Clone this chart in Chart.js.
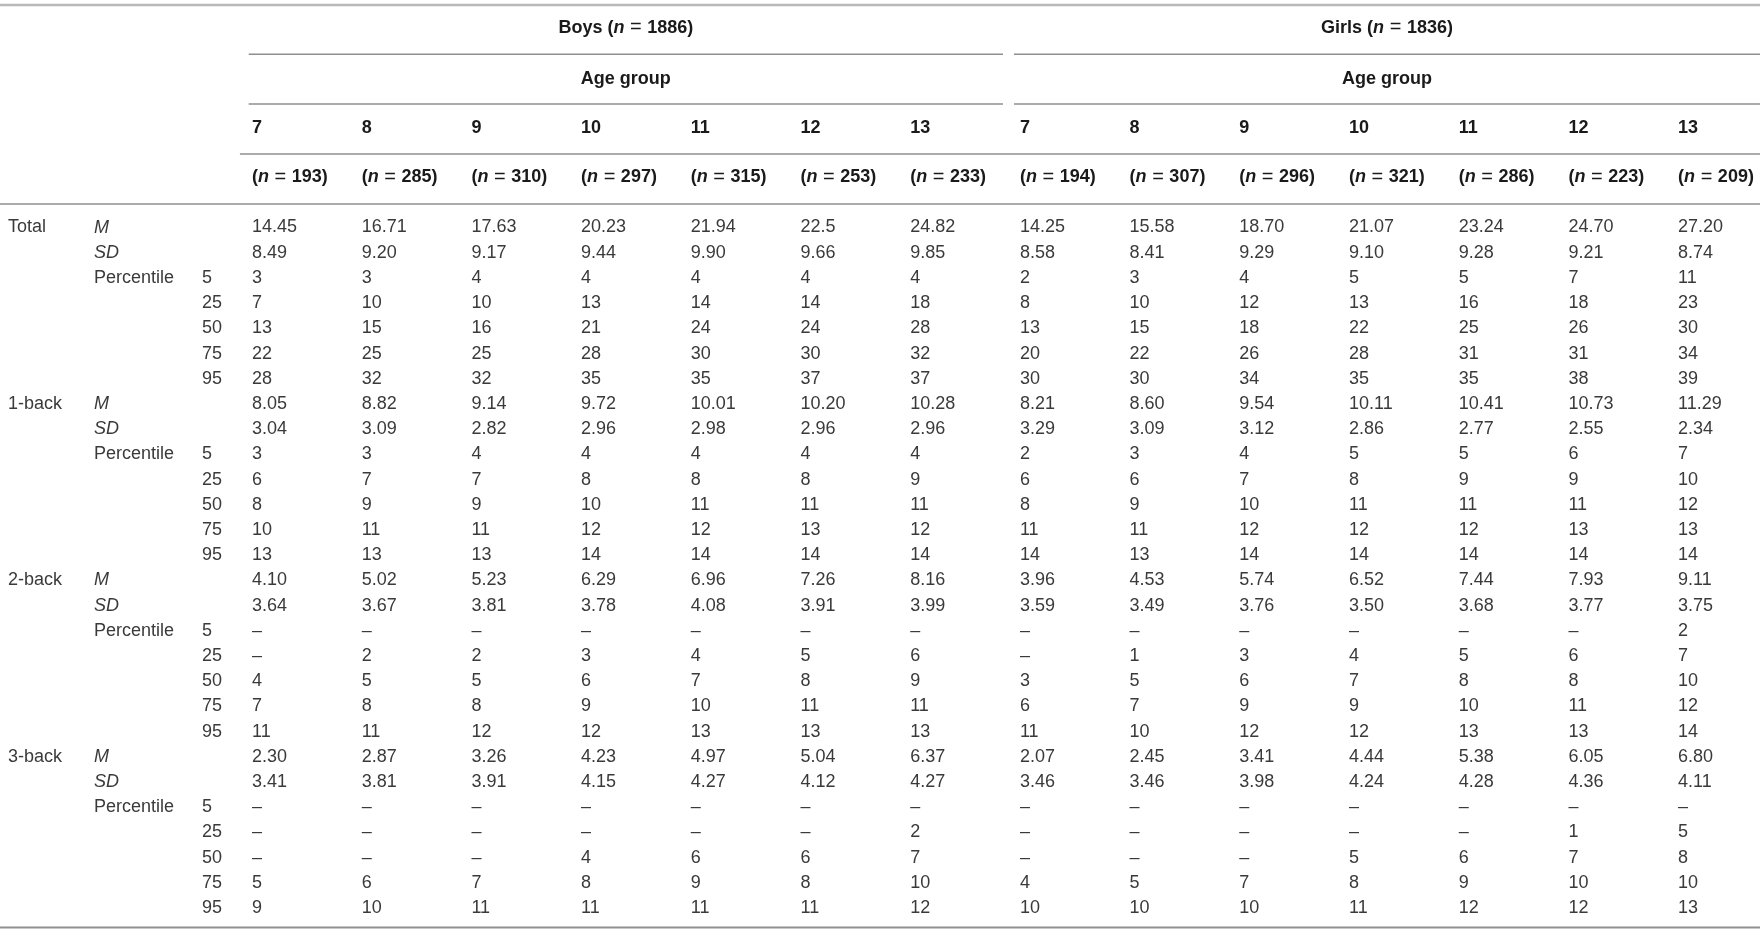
<!DOCTYPE html>
<html>
<head>
<meta charset="utf-8">
<script src="https://cdn.jsdelivr.net/npm/chart.js@4.4.1/dist/chart.umd.min.js"></script>
<style>
html, body { margin: 0; padding: 0; background: #fff; }
canvas { display: block; }
</style>
</head>
<body>
<canvas id="table" width="1763" height="941"></canvas>
<script>
// header
const groups = ['Boys (_n_ = 1886)', 'Girls (_n_ = 1836)'];
const ages = ['7', '8', '9', '10', '11', '12', '13'];
const boysN = [193, 285, 310, 297, 315, 253, 233];
const girlsN = [194, 307, 296, 321, 286, 223, 209];

// row labels
const measures = ['Total', '1-back', '2-back', '3-back'];
const stats = ['_M_', '_SD_', 'Percentile', '', '', '', ''];
const percentiles = ['', '', '5', '25', '50', '75', '95'];

// rows: M, SD, P5, P25, P50, P75, P95 ; cols: boys 7..13, girls 7..13
const totalScores = [
  ['14.45','16.71','17.63','20.23','21.94','22.5','24.82', '14.25','15.58','18.70','21.07','23.24','24.70','27.20'],
  ['8.49','9.20','9.17','9.44','9.90','9.66','9.85', '8.58','8.41','9.29','9.10','9.28','9.21','8.74'],
  ['3','3','4','4','4','4','4', '2','3','4','5','5','7','11'],
  ['7','10','10','13','14','14','18', '8','10','12','13','16','18','23'],
  ['13','15','16','21','24','24','28', '13','15','18','22','25','26','30'],
  ['22','25','25','28','30','30','32', '20','22','26','28','31','31','34'],
  ['28','32','32','35','35','37','37', '30','30','34','35','35','38','39']
];
const oneBack = [
  ['8.05','8.82','9.14','9.72','10.01','10.20','10.28', '8.21','8.60','9.54','10.11','10.41','10.73','11.29'],
  ['3.04','3.09','2.82','2.96','2.98','2.96','2.96', '3.29','3.09','3.12','2.86','2.77','2.55','2.34'],
  ['3','3','4','4','4','4','4', '2','3','4','5','5','6','7'],
  ['6','7','7','8','8','8','9', '6','6','7','8','9','9','10'],
  ['8','9','9','10','11','11','11', '8','9','10','11','11','11','12'],
  ['10','11','11','12','12','13','12', '11','11','12','12','12','13','13'],
  ['13','13','13','14','14','14','14', '14','13','14','14','14','14','14']
];
const twoBack = [
  ['4.10','5.02','5.23','6.29','6.96','7.26','8.16', '3.96','4.53','5.74','6.52','7.44','7.93','9.11'],
  ['3.64','3.67','3.81','3.78','4.08','3.91','3.99', '3.59','3.49','3.76','3.50','3.68','3.77','3.75'],
  ['–','–','–','–','–','–','–', '–','–','–','–','–','–','2'],
  ['–','2','2','3','4','5','6', '–','1','3','4','5','6','7'],
  ['4','5','5','6','7','8','9', '3','5','6','7','8','8','10'],
  ['7','8','8','9','10','11','11', '6','7','9','9','10','11','12'],
  ['11','11','12','12','13','13','13', '11','10','12','12','13','13','14']
];
const threeBack = [
  ['2.30','2.87','3.26','4.23','4.97','5.04','6.37', '2.07','2.45','3.41','4.44','5.38','6.05','6.80'],
  ['3.41','3.81','3.91','4.15','4.27','4.12','4.27', '3.46','3.46','3.98','4.24','4.28','4.36','4.11'],
  ['–','–','–','–','–','–','–', '–','–','–','–','–','–','–'],
  ['–','–','–','–','–','–','2', '–','–','–','–','–','1','5'],
  ['–','–','–','4','6','6','7', '–','–','–','5','6','7','8'],
  ['5','6','7','8','9','8','10', '4','5','7','8','9','10','10'],
  ['9','10','11','11','11','11','12', '10','10','10','11','12','12','13']
];
const scoreBlocks = [totalScores, oneBack, twoBack, threeBack];

// layout in scale units: x = data column index, y = body row index
const X_MIN = -2.297, X_MAX = 13.774;
const Y_MIN = -9.028, Y_MAX = 28.31;
const X_MEASURE = -2.224, X_STAT = -1.44, X_PCT = -0.456;
const BOYS_SPAN = [-0.03, 6.846], GIRLS_SPAN = [6.946, 13.747];
const FONT = '"Liberation Sans", Arial, sans-serif';
const FONT_SIZE = 18;

// '_x_' = italic, ' = ' = thin math equals sign
function drawRich(ctx, str, x, y, weight, align) {
  const parts = String(str).split(/(_[^_]*_|\s=\s)/).filter(s => s).map(s => {
    if (s[0] === '_') return { s: s.slice(1, -1), font: 'italic ' + weight + ' ' + FONT_SIZE + 'px ' + FONT };
    if (s.trim() === '=') return { s: ' = ', font: 'normal ' + Math.round(FONT_SIZE * 1.12) + 'px ' + FONT };
    return { s, font: weight + ' ' + FONT_SIZE + 'px ' + FONT };
  });
  let w = 0;
  parts.forEach(p => { ctx.font = p.font; p.w = ctx.measureText(p.s).width; w += p.w; });
  let cx = align === 'center' ? x - w / 2 : x;
  ctx.textAlign = 'left';
  parts.forEach(p => { ctx.font = p.font; ctx.fillText(p.s, cx, y); cx += p.w; });
}

const cellText = {
  id: 'cellText',
  afterDatasetsDraw(chart) {
    const ctx = chart.ctx;
    chart.data.datasets.forEach((ds, i) => {
      if (!ds.texts) return;
      const meta = chart.getDatasetMeta(i);
      ctx.save();
      ctx.fillStyle = ds.textColor;
      ctx.textBaseline = 'middle';
      meta.data.forEach((pt, j) => drawRich(ctx, ds.texts[j], pt.x, pt.y, ds.weight, ds.align));
      ctx.restore();
    });
  }
};

function textSet(cells, opts) {
  return Object.assign({
    type: 'scatter',
    data: cells.map(c => ({ x: c.x, y: c.y })),
    texts: cells.map(c => c.t),
    pointRadius: 0,
    pointHoverRadius: 0,
    textColor: '#3a3a3a',
    weight: 'normal',
    align: 'left',
    clip: false
  }, opts);
}

function rule(x0, x1, y, width, color) {
  return {
    type: 'scatter',
    showLine: true,
    data: [{ x: x0, y: y }, { x: x1, y: y }],
    borderColor: color,
    borderWidth: width,
    pointRadius: 0,
    pointHoverRadius: 0,
    clip: false
  };
}

// body cells
const bodyCells = [];
scoreBlocks.forEach((block, m) => {
  block.forEach((row, k) => {
    row.forEach((v, c) => bodyCells.push({ x: c, y: m * 7 + k, t: v }));
  });
});

const labelCells = [];
measures.forEach((name, m) => {
  labelCells.push({ x: X_MEASURE, y: m * 7, t: name });
  stats.forEach((s, k) => { if (s) labelCells.push({ x: X_STAT, y: m * 7 + k, t: s }); });
  percentiles.forEach((p, k) => { if (p) labelCells.push({ x: X_PCT, y: m * 7 + k, t: p }); });
});

const centers = [(BOYS_SPAN[0] + BOYS_SPAN[1]) / 2, (GIRLS_SPAN[0] + GIRLS_SPAN[1]) / 2];
const spanCells = [];
groups.forEach((g, i) => {
  spanCells.push({ x: centers[i], y: -7.92, t: g });
  spanCells.push({ x: centers[i], y: -5.9, t: 'Age group' });
});

const headCells = [];
const nCells = [];
[boysN, girlsN].forEach((ns, g) => {
  ages.forEach((a, i) => {
    headCells.push({ x: g * 7 + i, y: -3.93, t: a });
    nCells.push({ x: g * 7 + i, y: -2.0, t: '(_n_ = ' + ns[i] + ')' });
  });
});

const datasets = [
  rule(X_MIN, GIRLS_SPAN[1], -8.83, 2.5, '#b8b8b8'),
  rule(BOYS_SPAN[0], BOYS_SPAN[1], -6.88, 1.5, '#8f8f8f'),
  rule(GIRLS_SPAN[0], GIRLS_SPAN[1], -6.88, 1.5, '#8f8f8f'),
  rule(BOYS_SPAN[0], BOYS_SPAN[1], -4.90, 1.5, '#8f8f8f'),
  rule(GIRLS_SPAN[0], GIRLS_SPAN[1], -4.90, 1.5, '#8f8f8f'),
  rule(-0.11, GIRLS_SPAN[1], -2.92, 1.5, '#8f8f8f'),
  rule(X_MIN, GIRLS_SPAN[1], -0.93, 1.5, '#8f8f8f'),
  rule(X_MIN, GIRLS_SPAN[1], 27.77, 2, '#8f8f8f'),
  textSet(bodyCells, {}),
  textSet(labelCells, {}),
  textSet(spanCells, { weight: 'bold', align: 'center', textColor: '#1a1a1a' }),
  textSet(headCells, { weight: 'bold', textColor: '#1a1a1a' }),
  textSet(nCells, { weight: 'bold', textColor: '#1a1a1a' })
];

new Chart(document.getElementById('table'), {
  type: 'scatter',
  data: { datasets },
  options: {
    responsive: false,
    animation: false,
    events: [],
    layout: { padding: 0 },
    plugins: { legend: { display: false }, tooltip: { enabled: false } },
    scales: {
      x: { type: 'linear', min: X_MIN, max: X_MAX, display: false },
      y: { type: 'linear', min: Y_MIN, max: Y_MAX, reverse: true, display: false }
    }
  },
  plugins: [cellText]
});
</script>
</body>
</html>
